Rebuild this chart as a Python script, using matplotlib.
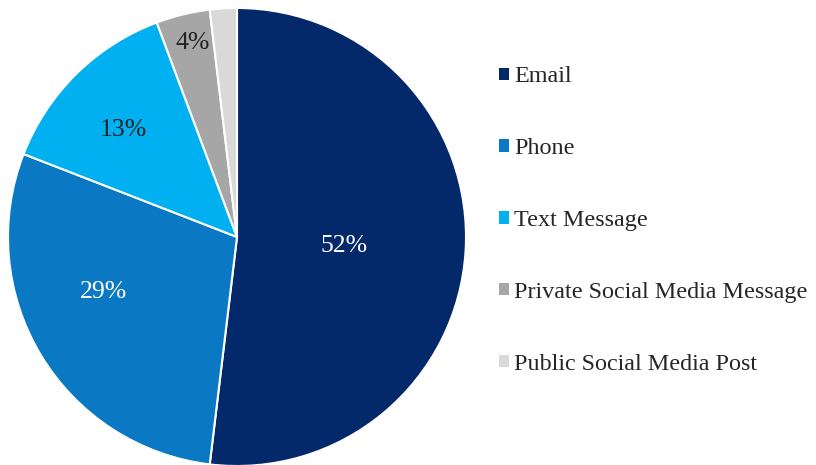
import numpy as np
import matplotlib.pyplot as plt
from matplotlib.patches import Patch

plt.rcParams["font.family"] = ["Liberation Serif", "DejaVu Serif"]

categories = ["Email", "Phone", "Text Message", "Private Social Media Message", "Public Social Media Post"]
values = [51.9, 29.0, 13.4, 3.8, 1.9]
labels = ["52%", "29%", "13%", "4%", ""]

colors = ["#03296b", "#0a78c2", "#00b0f0", "#a6a6a6", "#d9d9d9"]
label_colors = ["white", "white", "#222222", "#222222", "#222222"]
# best-fit label placement: distance from centre and angle nudge (deg)
label_dist = [0.47, 0.63, 0.68, 0.87, 0.8]
label_shift = [-1.5, -8.5, 2, -0.7, 0]

fig = plt.figure(figsize=(8.16, 4.65), dpi=100)
W, H = 816, 465
cx, cy, r = 237, 237, 229
ax = fig.add_axes([(cx - r) / W, (H - cy - r) / H, 2 * r / W, 2 * r / H])

wedges, _ = ax.pie(values, colors=colors, startangle=90, counterclock=False,
                   wedgeprops=dict(edgecolor="white", linewidth=1.5))
ax.set_xlim(-1, 1)
ax.set_ylim(-1, 1)
ax.set_aspect("equal")

for w, lab, col, d, s in zip(wedges, labels, label_colors, label_dist, label_shift):
    if not lab:
        continue
    ang = np.deg2rad((w.theta1 + w.theta2) / 2 + s)
    ax.text(d * np.cos(ang), d * np.sin(ang), lab, color=col, fontsize=18.5,
            ha="center", va="center")

handles = [Patch(facecolor=c, edgecolor="none") for c in colors]
leg = fig.legend(handles, categories, loc="center left", bbox_to_anchor=(489 / W, 1 - 220.5 / H),
                 frameon=False, fontsize=17.4, handlelength=0.42, handleheight=0.42,
                 handletextpad=0.22, labelspacing=2.1, borderaxespad=0)
for t in leg.get_texts():
    t.set_color("#262626")

fig.savefig("out.png", dpi=100)
